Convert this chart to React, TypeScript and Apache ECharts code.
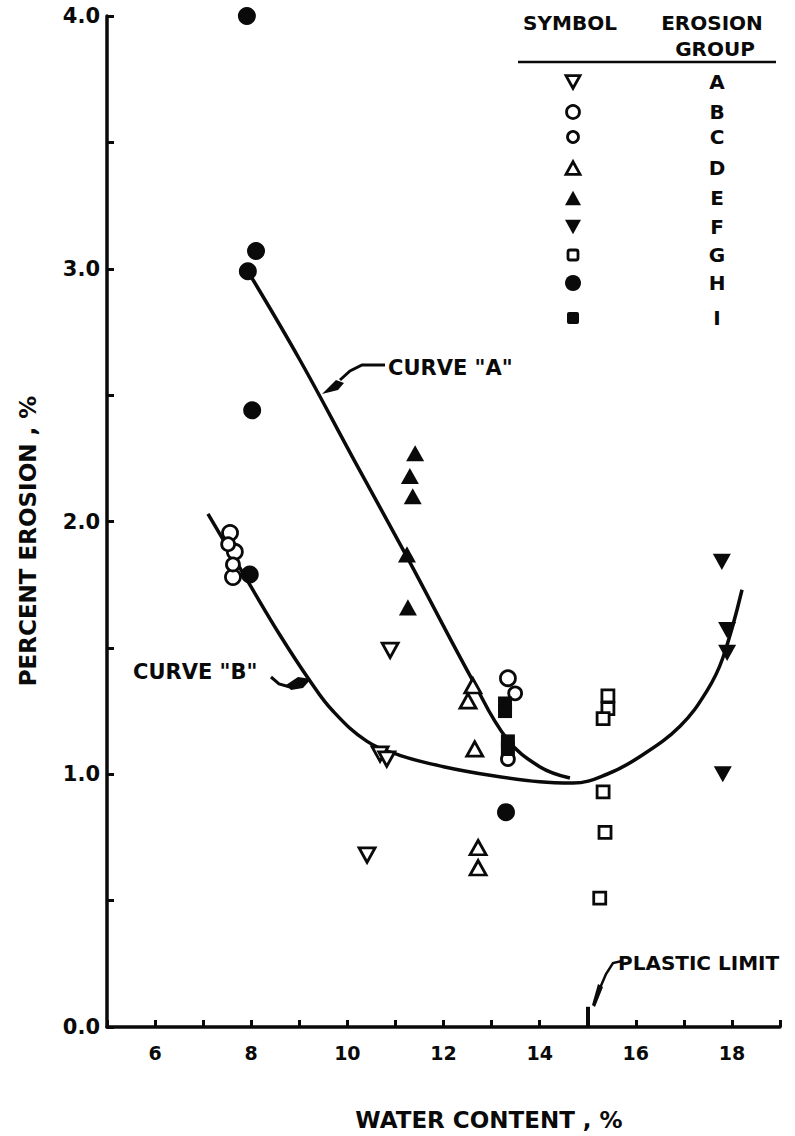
import React, { useEffect, useRef } from "react";
import * as echarts from "echarts";

// ---------- data ----------
const groups = ["A", "B", "C", "D", "E", "F", "G", "H", "I"];
const groupA = [[10.89, 1.49], [10.68, 1.08], [10.82, 1.06], [10.41, 0.68]];
const groupB = [[7.56, 1.955], [7.66, 1.88], [7.62, 1.78], [13.34, 1.38]];
const groupC = [[7.52, 1.91], [7.62, 1.83], [13.49, 1.32], [13.34, 1.06]];
const groupD = [[12.61, 1.35], [12.51, 1.29], [12.65, 1.1], [12.72, 0.71], [12.72, 0.63]];
const groupE = [[11.41, 2.27], [11.3, 2.18], [11.36, 2.1], [11.24, 1.87], [11.26, 1.66]];
const groupF = [[17.79, 1.84], [17.9, 1.57], [17.9, 1.48], [17.81, 1.0]];
const groupG = [[15.42, 1.31], [15.42, 1.26], [15.32, 1.22], [15.32, 0.93], [15.36, 0.77], [15.25, 0.51]];
const groupH = [[7.91, 4.0], [8.1, 3.07], [7.93, 2.99], [8.02, 2.44], [7.97, 1.79], [13.3, 0.85]];
const groupI = [[13.28, 1.28], [13.28, 1.25], [13.34, 1.13], [13.34, 1.1]];
const groupData = [groupA, groupB, groupC, groupD, groupE, groupF, groupG, groupH, groupI];

const curveA = [[7.93, 2.99], [9.01, 2.64], [10.12, 2.25], [11.24, 1.86], [12.61, 1.37], [13.32, 1.14], [14.0, 1.03], [14.63, 0.985]];
const curveB = [[7.1, 2.03], [7.97, 1.75], [8.6, 1.55], [9.22, 1.37], [9.7, 1.25], [10.41, 1.13], [11.09, 1.075], [12.0, 1.03], [13.0, 0.995], [14.0, 0.97], [14.69, 0.965], [15.4, 1.0], [16.09, 1.07], [16.92, 1.19], [17.48, 1.33], [17.81, 1.46], [18.21, 1.73]];

const xTickLabels = [6, 8, 10, 12, 14, 16, 18];
const yTickLabels = [0, 1, 2, 3, 4];
const plasticLimit = 15;

// ---------- styles / layout ----------
const FONT = "DejaVu Sans";
const INK = "#0a0a0a";
type GS = { symbol: string; rotate: number; filled: boolean; size: number };
const groupStyle: Record<string, GS> = {
  A: { symbol: "triangle", rotate: 180, filled: false, size: 16 },
  B: { symbol: "circle", rotate: 0, filled: false, size: 15 },
  C: { symbol: "circle", rotate: 0, filled: false, size: 13 },
  D: { symbol: "triangle", rotate: 0, filled: false, size: 16 },
  E: { symbol: "triangle", rotate: 0, filled: true, size: 18 },
  F: { symbol: "triangle", rotate: 180, filled: true, size: 18 },
  G: { symbol: "rect", rotate: 0, filled: false, size: 12 },
  H: { symbol: "circle", rotate: 0, filled: true, size: 18 },
  I: { symbol: "rect", rotate: 0, filled: true, size: 14 },
};
const legendRowY = [82, 112, 137, 168, 198, 227, 255, 283, 318];
const legendSymX = 573;
const legendLetterX = 717;

function legendSymbol(key: string, cx: number, cy: number) {
  const st = groupStyle[key];
  const s = st.size - 2;
  const style = { fill: st.filled ? INK : "#fff", stroke: INK, lineWidth: st.filled ? 0 : 2.8 };
  if (st.symbol === "triangle") {
    const h = s * 0.9;
    const pts =
      st.rotate === 180
        ? [[cx - s / 2, cy - h / 2], [cx + s / 2, cy - h / 2], [cx, cy + h / 2]]
        : [[cx - s / 2, cy + h / 2], [cx + s / 2, cy + h / 2], [cx, cy - h / 2]];
    return { type: "polygon", shape: { points: pts }, style };
  }
  if (st.symbol === "circle") {
    return { type: "circle", shape: { cx, cy, r: s / 2 }, style };
  }
  return { type: "rect", shape: { x: cx - s / 2, y: cy - s / 2, width: s, height: s, r: 2 }, style };
}

function txt(text: string, x: number, y: number, size: number, align = "center", extra: any = {}) {
  return {
    type: "text",
    x,
    y,
    ...extra,
    style: {
      text,
      fill: INK,
      font: `bold ${size}px "${FONT}"`,
      align,
      verticalAlign: "middle",
    },
  };
}

export default function App() {
  const ref = useRef<HTMLDivElement>(null);
  useEffect(() => {
    const chart = echarts.init(ref.current!, null, { renderer: "svg" });

    const scatterSeries = groups.map((g, i) => {
      const st = groupStyle[g];
      return {
        name: g,
        type: "scatter",
        data: groupData[i],
        symbol: st.symbol,
        symbolRotate: st.rotate,
        symbolSize: st.symbol === "triangle" ? [st.size, st.size * 0.9] : st.size,
        clip: false,
        z: 4,
        itemStyle: st.filled
          ? { color: INK, opacity: 1 }
          : { color: "#fff", borderColor: INK, borderWidth: 2.8, opacity: 1 },
      };
    });

    const curveSeries = [curveA, curveB].map((c, i) => ({
      name: i === 0 ? 'CURVE "A"' : 'CURVE "B"',
      type: "line",
      data: c,
      smooth: 0.4,
      showSymbol: false,
      symbol: "none",
      z: 2,
      lineStyle: { color: INK, width: 3.5 },
    }));

    const graphics: any[] = [
      txt("SYMBOL", 570, 23, 20),
      txt("EROSION", 712, 23, 20),
      txt("GROUP", 715, 49, 20),
      { type: "line", shape: { x1: 518, y1: 62, x2: 776, y2: 62 }, style: { stroke: INK, lineWidth: 2.5 } },
      ...groups.map((g, i) => legendSymbol(g, legendSymX, legendRowY[i])),
      ...groups.map((g, i) => txt(g, legendLetterX, legendRowY[i], 20)),
      // Curve A label + arrow
      txt('CURVE "A"', 388, 368, 21, "left"),
      { type: "polyline", shape: { points: [[385, 365], [362, 365], [350, 371], [340, 380]] }, style: { stroke: INK, lineWidth: 3, fill: null } },
      { type: "polygon", shape: { points: [[322, 394], [336, 380], [344, 383], [338, 390]] }, style: { fill: INK } },
      // Curve B label + arrow
      txt('CURVE "B"', 133, 672, 21, "left"),
      { type: "polyline", shape: { points: [[271, 677], [279, 684], [290, 687]] }, style: { stroke: INK, lineWidth: 3, fill: null } },
      { type: "polygon", shape: { points: [[286, 685], [298, 677], [311, 679], [303, 688], [291, 690]] }, style: { fill: INK } },
      // Plastic limit
      txt("PLASTIC LIMIT", 618, 963, 20, "left"),
      { type: "polyline", shape: { points: [[622, 961], [613, 963], [606, 974], [600, 988]] }, style: { stroke: INK, lineWidth: 2.5, fill: null } },
      { type: "polygon", shape: { points: [[598, 984], [603, 987], [595, 1007], [592, 1005]] }, style: { fill: INK } },
      // axis titles
      txt("WATER CONTENT , %", 489, 1120, 23),
      txt("PERCENT EROSION , %", 28, 541, 23, "center", { rotation: Math.PI / 2 }),
    ];

    chart.setOption({
      animation: false,
      backgroundColor: "#fff",
      textStyle: { fontFamily: FONT },
      grid: { left: 107, right: 15, top: 16, bottom: 109, containLabel: false },
      xAxis: {
        type: "value",
        min: 5,
        max: 19,
        interval: 1,
        splitLine: { show: false },
        axisLine: { show: true, onZero: false, lineStyle: { color: INK, width: 3.5 } },
        axisTick: { show: true, inside: true, length: 7, lineStyle: { color: INK, width: 3 } },
        axisLabel: {
          margin: 16,
          color: INK,
          fontSize: 19,
          fontWeight: "bold",
          fontFamily: FONT,
          formatter: (v: number) => (xTickLabels.includes(v) ? String(v) : ""),
        },
      },
      yAxis: {
        type: "value",
        min: 0,
        max: 4,
        interval: 0.5,
        splitLine: { show: false },
        axisLine: { show: true, onZero: false, lineStyle: { color: INK, width: 3.5 } },
        axisTick: { show: true, inside: true, length: 7, lineStyle: { color: INK, width: 3 } },
        axisLabel: {
          margin: 7,
          color: INK,
          fontSize: 21,
          fontWeight: "bold",
          fontFamily: FONT,
          formatter: (v: number) => (yTickLabels.includes(v) ? v.toFixed(1) : ""),
        },
      },
      series: [
        ...curveSeries,
        ...scatterSeries,
        {
          name: "plastic limit",
          type: "line",
          data: [],
          markLine: {
            silent: true,
            symbol: "none",
            label: { show: false },
            lineStyle: { color: INK, width: 4, type: "solid" },
            data: [[{ coord: [plasticLimit, 0] }, { coord: [plasticLimit, 0.08] }]],
          },
        },
      ],
      graphic: graphics,
    });
    return () => chart.dispose();
  }, []);
  return (
    <div
      ref={ref}
      style={{ position: "fixed", left: 0, top: 0, width: 795, height: 1136, background: "#fff" }}
    />
  );
}
